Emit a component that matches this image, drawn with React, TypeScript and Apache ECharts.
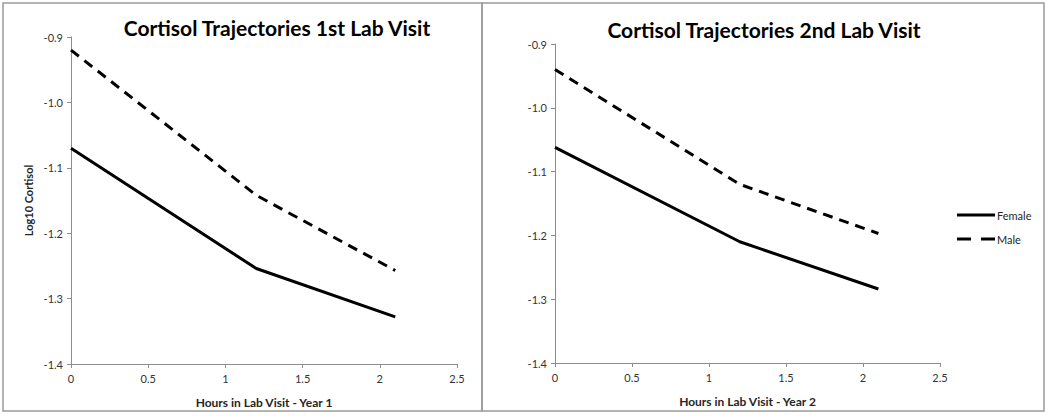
import React, { useEffect, useRef } from "react";
import * as echarts from "echarts";

const hours = [0, 1.2, 2.1];
const femaleVisit1 = [-1.07, -1.254, -1.328];
const maleVisit1 = [-0.92, -1.142, -1.257];
const femaleVisit2 = [-1.062, -1.21, -1.284];
const maleVisit2 = [-0.94, -1.12, -1.197];
const titles = ["Cortisol Trajectories 1st Lab Visit", "Cortisol Trajectories 2nd Lab Visit"];
const xNames = ["Hours in Lab Visit - Year 1", "Hours in Lab Visit - Year 2"];
const yName = "Log10 Cortisol";
const legendNames = ["Female", "Male"];

const FONT = "Lato, 'Liberation Sans', sans-serif";
const AXIS_GRAY = "#8c8c8c";
const DASH = [10, 7];
const LEGEND_DASH = [14, 10];

function pairs(xs: number[], ys: number[]) {
  return xs.map((x, i) => [x, ys[i]]);
}

export default function App() {
  const ref = useRef<HTMLDivElement>(null);
  useEffect(() => {
    if (!ref.current) return;
    const chart = echarts.init(ref.current, undefined, { renderer: "svg" });
    const xAxisBase = (gridIndex: number) => ({
      type: "value" as const,
      gridIndex,
      min: 0,
      max: 2.5,
      interval: 0.5,
      name: xNames[gridIndex],
      nameLocation: "middle" as const,
      nameGap: 32,
      nameTextStyle: { fontFamily: FONT, fontWeight: "bold" as const, fontSize: 12, color: "#262626" },
      axisLine: { show: true, onZero: false, lineStyle: { color: AXIS_GRAY, width: 1 } },
      axisTick: { show: true, length: 4, lineStyle: { color: AXIS_GRAY } },
      axisLabel: { fontFamily: FONT, fontSize: 11, color: "#333", margin: 9 },
      splitLine: { show: false },
    });
    const yAxisBase = (gridIndex: number) => ({
      type: "value" as const,
      gridIndex,
      min: -1.4,
      max: -0.9,
      interval: 0.1,
      name: gridIndex === 0 ? yName : "",
      nameLocation: "middle" as const,
      nameGap: 37,
      nameTextStyle: { fontFamily: FONT, fontWeight: "bold" as const, fontSize: 11, color: "#262626" },
      axisLine: { show: true, onZero: false, lineStyle: { color: AXIS_GRAY, width: 1 } },
      axisTick: { show: true, length: 4, lineStyle: { color: AXIS_GRAY } },
      axisLabel: {
        fontFamily: FONT,
        fontSize: 11,
        color: "#333",
        margin: 8,
        formatter: (v: number) => v.toFixed(1),
      },
      splitLine: { show: false },
    });
    const lineSeries = (name: string, idx: number, ys: number[], dashed: boolean) => ({
      type: "line" as const,
      name,
      xAxisIndex: idx,
      yAxisIndex: idx,
      data: pairs(hours, ys),
      symbol: "none",
      lineStyle: { color: "#000", width: 3, type: dashed ? DASH : "solid" },
      itemStyle: { color: "#000" },
    });
    const legendGraphics: any[] = [];
    legendNames.forEach((n, i) => {
      const y = 215 + i * 24;
      legendGraphics.push({
        type: "line",
        shape: { x1: 957, y1: y, x2: 995, y2: y },
        style: { stroke: "#000", lineWidth: 3, lineDash: i === 1 ? LEGEND_DASH : null },
        silent: true,
      });
      legendGraphics.push({
        type: "text",
        x: 997,
        y,
        style: {
          text: n,
          fontFamily: FONT,
          fontSize: 11,
          fill: "#262626",
          textAlign: "left",
          textVerticalAlign: "middle",
        },
      });
    });
    chart.setOption({
      animation: false,
      backgroundColor: "#ffffff",
      grid: [
        { left: 71, top: 37, width: 386, height: 327 },
        { left: 555, top: 44, width: 385, height: 319 },
      ],
      xAxis: [xAxisBase(0), xAxisBase(1)],
      yAxis: [yAxisBase(0), yAxisBase(1)],
      series: [
        lineSeries("Female", 0, femaleVisit1, false),
        lineSeries("Male", 0, maleVisit1, true),
        lineSeries("Female", 1, femaleVisit2, false),
        lineSeries("Male", 1, maleVisit2, true),
      ],
      graphic: [
        {
          type: "rect",
          shape: { x: 3, y: 3, width: 479, height: 408 },
          style: { fill: "none", stroke: "#9a9a9a", lineWidth: 1.5 },
          silent: true,
        },
        {
          type: "rect",
          shape: { x: 482, y: 3, width: 562, height: 408 },
          style: { fill: "none", stroke: "#9a9a9a", lineWidth: 1.5 },
          silent: true,
        },
        {
          type: "text",
          x: 277,
          y: 27,
          style: {
            text: titles[0],
            fontFamily: FONT,
            fontWeight: "bold",
            fontSize: 21,
            fill: "#000",
            textAlign: "center",
            textVerticalAlign: "middle",
          },
        },
        {
          type: "text",
          x: 764,
          y: 29,
          style: {
            text: titles[1],
            fontFamily: FONT,
            fontWeight: "bold",
            fontSize: 21,
            fill: "#000",
            textAlign: "center",
            textVerticalAlign: "middle",
          },
        },
        ...legendGraphics,
      ],
    });
    return () => chart.dispose();
  }, []);
  return (
    <div
      ref={ref}
      style={{ position: "absolute", left: 0, top: 0, width: 1050, height: 416 }}
    />
  );
}
